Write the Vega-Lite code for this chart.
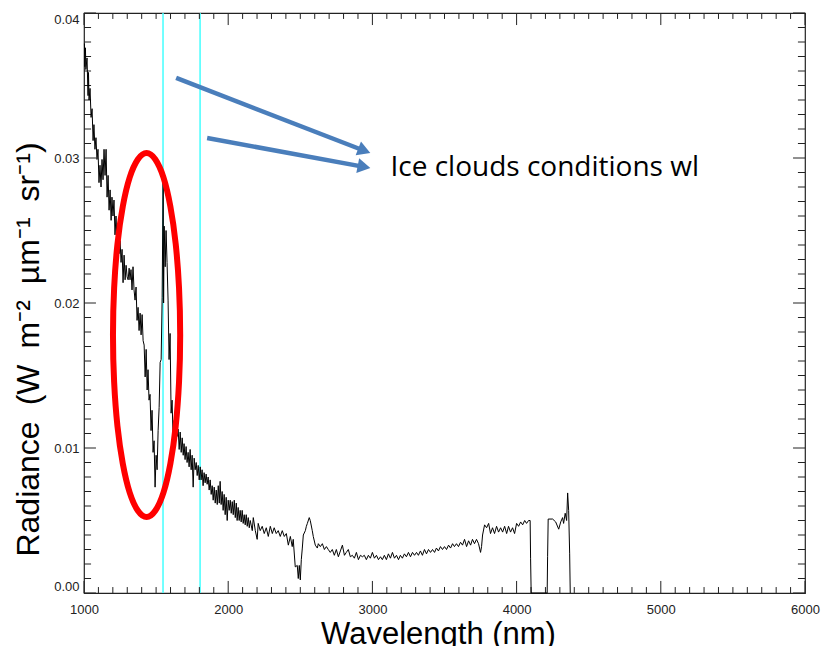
{
  "$schema": "https://vega.github.io/schema/vega-lite/v6.json",
  "width": 721,
  "height": 580,
  "autosize": {"type": "none"},
  "padding": {"left": 84, "top": 13, "right": 16, "bottom": 53},
  "background": "white",
  "config": {"view": {"stroke": "#222", "strokeWidth": 1.2}, "axis": {"ticks": false, "domain": false, "grid": false}},
  "datasets": {
    "spectrum": [
      {"nm":1003,"rad":0.0379},{"nm":1006,"rad":0.0363},{"nm":1010,"rad":0.0376},{"nm":1013,"rad":0.0361},{"nm":1021,"rad":0.0369},{"nm":1028,"rad":0.0343},{"nm":1031,"rad":0.0359},{"nm":1035,"rad":0.0340},{"nm":1042,"rad":0.0348},{"nm":1049,"rad":0.0328},{"nm":1056,"rad":0.0334},{"nm":1063,"rad":0.0312},{"nm":1069,"rad":0.0323},{"nm":1076,"rad":0.0306},{"nm":1083,"rad":0.0314},{"nm":1090,"rad":0.0299},{"nm":1097,"rad":0.0306},{"nm":1104,"rad":0.0283},{"nm":1111,"rad":0.0295},{"nm":1118,"rad":0.0280},{"nm":1125,"rad":0.0299},{"nm":1132,"rad":0.0285},{"nm":1139,"rad":0.0306},{"nm":1146,"rad":0.0288},{"nm":1153,"rad":0.0306},{"nm":1160,"rad":0.0273},{"nm":1167,"rad":0.0288},{"nm":1174,"rad":0.0264},{"nm":1181,"rad":0.0278},{"nm":1188,"rad":0.0257},{"nm":1194,"rad":0.0273},{"nm":1201,"rad":0.0260},{"nm":1208,"rad":0.0271},{"nm":1215,"rad":0.0247},{"nm":1222,"rad":0.0260},{"nm":1229,"rad":0.0243},{"nm":1236,"rad":0.0248},{"nm":1243,"rad":0.0234},{"nm":1250,"rad":0.0243},{"nm":1257,"rad":0.0228},{"nm":1264,"rad":0.0237},{"nm":1271,"rad":0.0214},{"nm":1278,"rad":0.0233},{"nm":1285,"rad":0.0216},{"nm":1292,"rad":0.0226},{"nm":1299,"rad":0.0218},{"nm":1306,"rad":0.0216},{"nm":1313,"rad":0.0224},{"nm":1319,"rad":0.0216},{"nm":1326,"rad":0.0223},{"nm":1333,"rad":0.0209},{"nm":1340,"rad":0.0225},{"nm":1347,"rad":0.0209},{"nm":1354,"rad":0.0202},{"nm":1361,"rad":0.0211},{"nm":1368,"rad":0.0188},{"nm":1375,"rad":0.0197},{"nm":1382,"rad":0.0181},{"nm":1389,"rad":0.0193},{"nm":1396,"rad":0.0178},{"nm":1403,"rad":0.0192},{"nm":1410,"rad":0.0174},{"nm":1417,"rad":0.0171},{"nm":1424,"rad":0.0149},{"nm":1431,"rad":0.0168},{"nm":1438,"rad":0.0140},{"nm":1444,"rad":0.0154},{"nm":1451,"rad":0.0133},{"nm":1458,"rad":0.0137},{"nm":1465,"rad":0.0112},{"nm":1472,"rad":0.0126},{"nm":1479,"rad":0.0097},{"nm":1486,"rad":0.0105},{"nm":1493,"rad":0.0073},{"nm":1500,"rad":0.0095},{"nm":1507,"rad":0.0085},{"nm":1514,"rad":0.0112},{"nm":1521,"rad":0.0128},{"nm":1528,"rad":0.0159},{"nm":1535,"rad":0.0161},{"nm":1542,"rad":0.0204},{"nm":1549,"rad":0.0290},{"nm":1552,"rad":0.0200},{"nm":1556,"rad":0.0253},{"nm":1563,"rad":0.0225},{"nm":1569,"rad":0.0250},{"nm":1576,"rad":0.0228},{"nm":1583,"rad":0.0202},{"nm":1590,"rad":0.0161},{"nm":1597,"rad":0.0179},{"nm":1604,"rad":0.0124},{"nm":1611,"rad":0.0133},{"nm":1618,"rad":0.0106},{"nm":1625,"rad":0.0119},{"nm":1632,"rad":0.0106},{"nm":1639,"rad":0.0114},{"nm":1646,"rad":0.0108},{"nm":1653,"rad":0.0113},{"nm":1660,"rad":0.0099},{"nm":1667,"rad":0.0111},{"nm":1674,"rad":0.0097},{"nm":1681,"rad":0.0107},{"nm":1688,"rad":0.0095},{"nm":1694,"rad":0.0103},{"nm":1701,"rad":0.0092},{"nm":1708,"rad":0.0101},{"nm":1715,"rad":0.0090},{"nm":1722,"rad":0.0097},{"nm":1729,"rad":0.0087},{"nm":1736,"rad":0.0099},{"nm":1743,"rad":0.0085},{"nm":1750,"rad":0.0095},{"nm":1757,"rad":0.0073},{"nm":1764,"rad":0.0093},{"nm":1771,"rad":0.0085},{"nm":1778,"rad":0.0090},{"nm":1785,"rad":0.0081},{"nm":1792,"rad":0.0088},{"nm":1799,"rad":0.0078},{"nm":1806,"rad":0.0087},{"nm":1812,"rad":0.0078},{"nm":1819,"rad":0.0085},{"nm":1826,"rad":0.0074},{"nm":1833,"rad":0.0083},{"nm":1840,"rad":0.0076},{"nm":1847,"rad":0.0082},{"nm":1854,"rad":0.0075},{"nm":1861,"rad":0.0080},{"nm":1868,"rad":0.0071},{"nm":1875,"rad":0.0078},{"nm":1882,"rad":0.0068},{"nm":1889,"rad":0.0074},{"nm":1896,"rad":0.0064},{"nm":1903,"rad":0.0073},{"nm":1910,"rad":0.0062},{"nm":1917,"rad":0.0071},{"nm":1924,"rad":0.0061},{"nm":1931,"rad":0.0074},{"nm":1938,"rad":0.0062},{"nm":1944,"rad":0.0077},{"nm":1951,"rad":0.0061},{"nm":1958,"rad":0.0070},{"nm":1965,"rad":0.0057},{"nm":1972,"rad":0.0068},{"nm":1979,"rad":0.0054},{"nm":1986,"rad":0.0066},{"nm":1993,"rad":0.0050},{"nm":2000,"rad":0.0064},{"nm":2007,"rad":0.0057},{"nm":2014,"rad":0.0064},{"nm":2021,"rad":0.0055},{"nm":2028,"rad":0.0063},{"nm":2035,"rad":0.0054},{"nm":2042,"rad":0.0064},{"nm":2049,"rad":0.0052},{"nm":2056,"rad":0.0062},{"nm":2062,"rad":0.0050},{"nm":2069,"rad":0.0059},{"nm":2076,"rad":0.0050},{"nm":2083,"rad":0.0057},{"nm":2090,"rad":0.0049},{"nm":2097,"rad":0.0057},{"nm":2104,"rad":0.0048},{"nm":2111,"rad":0.0054},{"nm":2118,"rad":0.0047},{"nm":2125,"rad":0.0054},{"nm":2132,"rad":0.0046},{"nm":2139,"rad":0.0052},{"nm":2146,"rad":0.0045},{"nm":2153,"rad":0.0050},{"nm":2167,"rad":0.0043},{"nm":2174,"rad":0.0052},{"nm":2188,"rad":0.0043},{"nm":2201,"rad":0.0037},{"nm":2208,"rad":0.0048},{"nm":2222,"rad":0.0043},{"nm":2236,"rad":0.0046},{"nm":2250,"rad":0.0041},{"nm":2264,"rad":0.0045},{"nm":2278,"rad":0.0039},{"nm":2292,"rad":0.0046},{"nm":2306,"rad":0.0041},{"nm":2319,"rad":0.0045},{"nm":2333,"rad":0.0041},{"nm":2347,"rad":0.0043},{"nm":2361,"rad":0.0039},{"nm":2375,"rad":0.0043},{"nm":2389,"rad":0.0039},{"nm":2403,"rad":0.0041},{"nm":2417,"rad":0.0033},{"nm":2431,"rad":0.0039},{"nm":2444,"rad":0.0032},{"nm":2451,"rad":0.0037},{"nm":2465,"rad":0.0018},{"nm":2479,"rad":0.0019},{"nm":2486,"rad":0.0010},{"nm":2493,"rad":0.0019},{"nm":2500,"rad":0.0009},{"nm":2507,"rad":0.0023},{"nm":2514,"rad":0.0031},{"nm":2521,"rad":0.0040},{"nm":2535,"rad":0.0043},{"nm":2542,"rad":0.0046},{"nm":2549,"rad":0.0048},{"nm":2562,"rad":0.0052},{"nm":2569,"rad":0.0050},{"nm":2583,"rad":0.0043},{"nm":2590,"rad":0.0039},{"nm":2604,"rad":0.0033},{"nm":2618,"rad":0.0031},{"nm":2625,"rad":0.0034},{"nm":2639,"rad":0.0032},{"nm":2653,"rad":0.0034},{"nm":2667,"rad":0.0030},{"nm":2681,"rad":0.0032},{"nm":2694,"rad":0.0030},{"nm":2708,"rad":0.0028},{"nm":2722,"rad":0.0030},{"nm":2736,"rad":0.0026},{"nm":2750,"rad":0.0030},{"nm":2764,"rad":0.0025},{"nm":2778,"rad":0.0029},{"nm":2792,"rad":0.0033},{"nm":2806,"rad":0.0026},{"nm":2819,"rad":0.0028},{"nm":2833,"rad":0.0030},{"nm":2847,"rad":0.0025},{"nm":2861,"rad":0.0026},{"nm":2875,"rad":0.0024},{"nm":2889,"rad":0.0028},{"nm":2903,"rad":0.0023},{"nm":2917,"rad":0.0026},{"nm":2931,"rad":0.0025},{"nm":2944,"rad":0.0026},{"nm":2958,"rad":0.0023},{"nm":2972,"rad":0.0026},{"nm":2986,"rad":0.0024},{"nm":3000,"rad":0.0028},{"nm":3014,"rad":0.0024},{"nm":3028,"rad":0.0026},{"nm":3042,"rad":0.0023},{"nm":3056,"rad":0.0025},{"nm":3069,"rad":0.0023},{"nm":3083,"rad":0.0026},{"nm":3097,"rad":0.0023},{"nm":3111,"rad":0.0027},{"nm":3125,"rad":0.0024},{"nm":3139,"rad":0.0028},{"nm":3153,"rad":0.0024},{"nm":3167,"rad":0.0026},{"nm":3181,"rad":0.0023},{"nm":3194,"rad":0.0026},{"nm":3208,"rad":0.0024},{"nm":3222,"rad":0.0027},{"nm":3236,"rad":0.0025},{"nm":3250,"rad":0.0028},{"nm":3264,"rad":0.0025},{"nm":3278,"rad":0.0028},{"nm":3292,"rad":0.0026},{"nm":3306,"rad":0.0028},{"nm":3319,"rad":0.0026},{"nm":3333,"rad":0.0029},{"nm":3347,"rad":0.0026},{"nm":3361,"rad":0.0030},{"nm":3375,"rad":0.0027},{"nm":3389,"rad":0.0030},{"nm":3403,"rad":0.0028},{"nm":3417,"rad":0.0030},{"nm":3431,"rad":0.0028},{"nm":3444,"rad":0.0031},{"nm":3458,"rad":0.0029},{"nm":3472,"rad":0.0032},{"nm":3486,"rad":0.0030},{"nm":3500,"rad":0.0032},{"nm":3514,"rad":0.0030},{"nm":3528,"rad":0.0033},{"nm":3542,"rad":0.0031},{"nm":3556,"rad":0.0034},{"nm":3569,"rad":0.0032},{"nm":3583,"rad":0.0034},{"nm":3597,"rad":0.0032},{"nm":3611,"rad":0.0035},{"nm":3625,"rad":0.0033},{"nm":3639,"rad":0.0037},{"nm":3653,"rad":0.0032},{"nm":3667,"rad":0.0036},{"nm":3681,"rad":0.0033},{"nm":3694,"rad":0.0037},{"nm":3708,"rad":0.0034},{"nm":3722,"rad":0.0037},{"nm":3736,"rad":0.0034},{"nm":3750,"rad":0.0028},{"nm":3757,"rad":0.0032},{"nm":3764,"rad":0.0040},{"nm":3778,"rad":0.0047},{"nm":3792,"rad":0.0045},{"nm":3806,"rad":0.0048},{"nm":3819,"rad":0.0041},{"nm":3833,"rad":0.0045},{"nm":3847,"rad":0.0041},{"nm":3861,"rad":0.0046},{"nm":3875,"rad":0.0042},{"nm":3889,"rad":0.0045},{"nm":3903,"rad":0.0042},{"nm":3917,"rad":0.0046},{"nm":3931,"rad":0.0041},{"nm":3944,"rad":0.0046},{"nm":3958,"rad":0.0042},{"nm":3972,"rad":0.0045},{"nm":3986,"rad":0.0041},{"nm":4000,"rad":0.0048},{"nm":4014,"rad":0.0046},{"nm":4028,"rad":0.0049},{"nm":4042,"rad":0.0047},{"nm":4056,"rad":0.0050},{"nm":4069,"rad":0.0048},{"nm":4083,"rad":0.0050},{"nm":4094,"rad":0.0050},{"nm":4097,"rad":0.0024},{"nm":4101,"rad":0},{"nm":4212,"rad":0},{"nm":4215,"rad":0.0025},{"nm":4219,"rad":0.0051},{"nm":4250,"rad":0.0051},{"nm":4271,"rad":0.0049},{"nm":4292,"rad":0.0044},{"nm":4306,"rad":0.0049},{"nm":4319,"rad":0.0052},{"nm":4326,"rad":0.0048},{"nm":4337,"rad":0.0055},{"nm":4347,"rad":0.0050},{"nm":4354,"rad":0.0069},{"nm":4361,"rad":0.0057},{"nm":4368,"rad":0.0027},{"nm":4372,"rad":0}
    ],
    "xmajor": [{"nm":1000},{"nm":2000},{"nm":3000},{"nm":4000},{"nm":5000},{"nm":6000}],
    "xminor": [{"nm":1100},{"nm":1200},{"nm":1300},{"nm":1400},{"nm":1500},{"nm":1600},{"nm":1700},{"nm":1800},{"nm":1900},{"nm":2100},{"nm":2200},{"nm":2300},{"nm":2400},{"nm":2500},{"nm":2600},{"nm":2700},{"nm":2800},{"nm":2900},{"nm":3100},{"nm":3200},{"nm":3300},{"nm":3400},{"nm":3500},{"nm":3600},{"nm":3700},{"nm":3800},{"nm":3900},{"nm":4100},{"nm":4200},{"nm":4300},{"nm":4400},{"nm":4500},{"nm":4600},{"nm":4700},{"nm":4800},{"nm":4900},{"nm":5100},{"nm":5200},{"nm":5300},{"nm":5400},{"nm":5500},{"nm":5600},{"nm":5700},{"nm":5800},{"nm":5900}],
    "ymajor": [{"rad":0},{"rad":0.01},{"rad":0.02},{"rad":0.03},{"rad":0.04}],
    "yminor": [{"rad":0.001},{"rad":0.002},{"rad":0.003},{"rad":0.004},{"rad":0.005},{"rad":0.006},{"rad":0.007},{"rad":0.008},{"rad":0.009},{"rad":0.011},{"rad":0.012},{"rad":0.013},{"rad":0.014},{"rad":0.015},{"rad":0.016},{"rad":0.017},{"rad":0.018},{"rad":0.019},{"rad":0.021},{"rad":0.022},{"rad":0.023},{"rad":0.024},{"rad":0.025},{"rad":0.026},{"rad":0.027},{"rad":0.028},{"rad":0.029},{"rad":0.031},{"rad":0.032},{"rad":0.033},{"rad":0.034},{"rad":0.035},{"rad":0.036},{"rad":0.037},{"rad":0.038},{"rad":0.039}],
    "ellipse": [
      {"i":0,"nm":1667,"rad":0.01779},{"i":1,"nm":1659,"rad":0.02104},{"i":2,"nm":1636,"rad":0.02407},{"i":3,"nm":1599,"rad":0.02666},{"i":4,"nm":1551,"rad":0.02866},{"i":5,"nm":1494,"rad":0.02991},{"i":6,"nm":1434,"rad":0.03034},{"i":7,"nm":1374,"rad":0.02991},{"i":8,"nm":1317,"rad":0.02866},{"i":9,"nm":1269,"rad":0.02666},{"i":10,"nm":1232,"rad":0.02407},{"i":11,"nm":1209,"rad":0.02104},{"i":12,"nm":1201,"rad":0.01779},{"i":13,"nm":1209,"rad":0.01454},{"i":14,"nm":1232,"rad":0.01151},{"i":15,"nm":1269,"rad":0.00892},{"i":16,"nm":1317,"rad":0.00692},{"i":17,"nm":1374,"rad":0.00567},{"i":18,"nm":1434,"rad":0.00524},{"i":19,"nm":1494,"rad":0.00567},{"i":20,"nm":1551,"rad":0.00692},{"i":21,"nm":1599,"rad":0.00892},{"i":22,"nm":1636,"rad":0.01151},{"i":23,"nm":1659,"rad":0.01454}
    ],
    "arrows": [
      {"a":1,"nm":1639,"rad":0.03552},{"a":1,"nm":2944,"rad":0.0305},
      {"a":2,"nm":1854,"rad":0.03138},{"a":2,"nm":2942,"rad":0.02939}
    ],
    "head1": [{"nm":2944,"rad":0.0305}],
    "head2": [{"nm":2942,"rad":0.02939}],
    "bands": [{"nm":1548},{"nm":1805}],
    "label": [{"nm":3125,"rad":0.0293,"text":"Ice clouds conditions wl"}]
  },
  "layer": [
    {
      "data": {"name": "bands"},
      "mark": {"type": "rule", "color": "#44ffff", "strokeWidth": 1.5},
      "encoding": {
        "x": {"field": "nm", "type": "quantitative", "scale": {"domain": [1000, 6000], "nice": false}}
      }
    },
    {
      "data": {"name": "xmajor"},
      "mark": {"type": "rule", "color": "#222", "strokeWidth": 1},
      "encoding": {
        "x": {"field": "nm", "type": "quantitative", "scale": {"domain": [1000, 6000], "nice": false}},
        "y": {"datum": 0, "type": "quantitative", "scale": {"domain": [0, 0.04], "nice": false}},
        "y2": {"datum": 0.00083}
      }
    },
    {
      "data": {"name": "xmajor"},
      "mark": {"type": "rule", "color": "#222", "strokeWidth": 1},
      "encoding": {
        "x": {"field": "nm", "type": "quantitative", "scale": {"domain": [1000, 6000], "nice": false}},
        "y": {"datum": 0.04, "type": "quantitative", "scale": {"domain": [0, 0.04], "nice": false}},
        "y2": {"datum": 0.03917}
      }
    },
    {
      "data": {"name": "xminor"},
      "mark": {"type": "rule", "color": "#222", "strokeWidth": 1},
      "encoding": {
        "x": {"field": "nm", "type": "quantitative", "scale": {"domain": [1000, 6000], "nice": false}},
        "y": {"datum": 0, "type": "quantitative", "scale": {"domain": [0, 0.04], "nice": false}},
        "y2": {"datum": 0.00041}
      }
    },
    {
      "data": {"name": "xminor"},
      "mark": {"type": "rule", "color": "#222", "strokeWidth": 1},
      "encoding": {
        "x": {"field": "nm", "type": "quantitative", "scale": {"domain": [1000, 6000], "nice": false}},
        "y": {"datum": 0.04, "type": "quantitative", "scale": {"domain": [0, 0.04], "nice": false}},
        "y2": {"datum": 0.03959}
      }
    },
    {
      "data": {"name": "ymajor"},
      "mark": {"type": "rule", "color": "#222", "strokeWidth": 1},
      "encoding": {
        "y": {"field": "rad", "type": "quantitative", "scale": {"domain": [0, 0.04], "nice": false}},
        "x": {"datum": 1000, "type": "quantitative", "scale": {"domain": [1000, 6000], "nice": false}},
        "x2": {"datum": 1083}
      }
    },
    {
      "data": {"name": "ymajor"},
      "mark": {"type": "rule", "color": "#222", "strokeWidth": 1},
      "encoding": {
        "y": {"field": "rad", "type": "quantitative", "scale": {"domain": [0, 0.04], "nice": false}},
        "x": {"datum": 6000, "type": "quantitative", "scale": {"domain": [1000, 6000], "nice": false}},
        "x2": {"datum": 5917}
      }
    },
    {
      "data": {"name": "yminor"},
      "mark": {"type": "rule", "color": "#222", "strokeWidth": 1},
      "encoding": {
        "y": {"field": "rad", "type": "quantitative", "scale": {"domain": [0, 0.04], "nice": false}},
        "x": {"datum": 1000, "type": "quantitative", "scale": {"domain": [1000, 6000], "nice": false}},
        "x2": {"datum": 1049}
      }
    },
    {
      "data": {"name": "yminor"},
      "mark": {"type": "rule", "color": "#222", "strokeWidth": 1},
      "encoding": {
        "y": {"field": "rad", "type": "quantitative", "scale": {"domain": [0, 0.04], "nice": false}},
        "x": {"datum": 6000, "type": "quantitative", "scale": {"domain": [1000, 6000], "nice": false}},
        "x2": {"datum": 5951}
      }
    },
    {
      "data": {"name": "spectrum"},
      "mark": {"type": "line", "color": "black", "strokeWidth": 1},
      "encoding": {
        "x": {
          "field": "nm", "type": "quantitative",
          "scale": {"domain": [1000, 6000], "nice": false},
          "axis": {
            "orient": "bottom",
            "values": [1000,2000,3000,4000,5000,6000],
            "format": "d",
            "labelFlush": false,
            "labelOverlap": false,
            "labelFont": "Liberation Sans",
            "labelFontSize": 13,
            "labelColor": "#222",
            "labelPadding": 10,
            "title": "Wavelength (nm)",
            "titleFont": "Liberation Sans",
            "titleFontSize": 31,
            "titleFontWeight": "normal",
            "titleColor": "black",
            "titleBaseline": "alphabetic",
            "titleAlign": "center",
            "titleX": 354,
            "titleY": 50
          }
        },
        "y": {
          "field": "rad", "type": "quantitative",
          "scale": {"domain": [0, 0.04], "nice": false},
          "axis": {
            "orient": "left",
            "values": [0, 0.01, 0.02, 0.03, 0.04],
            "format": ".2f",
            "labelFlush": true,
            "labelOverlap": false,
            "labelFont": "Liberation Sans",
            "labelFontSize": 13,
            "labelColor": "#222",
            "labelPadding": 5,
            "title": "Radiance\u2002(W\u2002m⁻²\u2002µm⁻¹\u2002sr⁻¹)",
            "titleFont": "Liberation Sans",
            "titleFontSize": 32,
            "titleFontWeight": "normal",
            "titleColor": "black",
            "titleAngle": -90,
            "titleBaseline": "alphabetic",
            "titleAlign": "center",
            "titleX": -46,
            "titleY": 336
          }
        }
      }
    },
    {
      "data": {"name": "ellipse"},
      "mark": {"type": "line", "color": "#ff0000", "strokeWidth": 6, "interpolate": "cardinal-closed"},
      "encoding": {
        "x": {"field": "nm", "type": "quantitative", "scale": {"domain": [1000, 6000], "nice": false}},
        "y": {"field": "rad", "type": "quantitative", "scale": {"domain": [0, 0.04], "nice": false}},
        "order": {"field": "i", "type": "quantitative"}
      }
    },
    {
      "data": {"name": "arrows"},
      "mark": {"type": "line", "color": "#4A7EBB", "strokeWidth": 4.5},
      "encoding": {
        "x": {"field": "nm", "type": "quantitative", "scale": {"domain": [1000, 6000], "nice": false}},
        "y": {"field": "rad", "type": "quantitative", "scale": {"domain": [0, 0.04], "nice": false}},
        "detail": {"field": "a", "type": "nominal"}
      }
    },
    {
      "data": {"name": "head1"},
      "mark": {"type": "point", "shape": "triangle-right", "filled": true, "color": "#4A7EBB", "opacity": 1, "size": 220, "angle": 21},
      "encoding": {
        "x": {"field": "nm", "type": "quantitative", "scale": {"domain": [1000, 6000], "nice": false}},
        "y": {"field": "rad", "type": "quantitative", "scale": {"domain": [0, 0.04], "nice": false}}
      }
    },
    {
      "data": {"name": "head2"},
      "mark": {"type": "point", "shape": "triangle-right", "filled": true, "color": "#4A7EBB", "opacity": 1, "size": 220, "angle": 11},
      "encoding": {
        "x": {"field": "nm", "type": "quantitative", "scale": {"domain": [1000, 6000], "nice": false}},
        "y": {"field": "rad", "type": "quantitative", "scale": {"domain": [0, 0.04], "nice": false}}
      }
    },
    {
      "data": {"name": "label"},
      "mark": {"type": "text", "align": "left", "baseline": "middle", "font": "Open Sans", "fontSize": 28, "color": "black"},
      "encoding": {
        "x": {"field": "nm", "type": "quantitative", "scale": {"domain": [1000, 6000], "nice": false}},
        "y": {"field": "rad", "type": "quantitative", "scale": {"domain": [0, 0.04], "nice": false}},
        "text": {"field": "text", "type": "nominal"}
      }
    }
  ]
}
